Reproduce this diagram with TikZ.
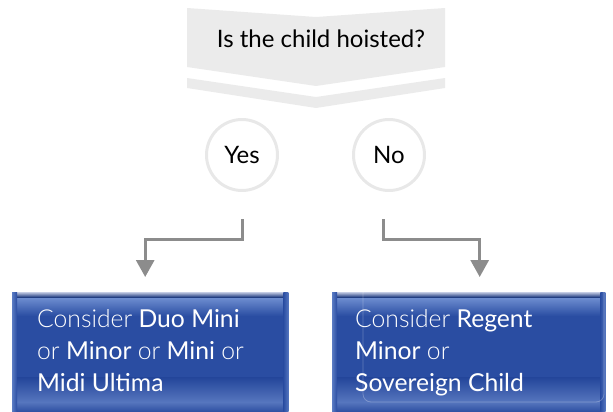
\documentclass[tikz,border=0pt]{standalone}
\usepackage{fontspec}
\setmainfont{Lato}
\newfontfamily\lightf{Lato Light}
\usetikzlibrary{arrows.meta}
\definecolor{bannergray}{HTML}{EBEBEB}
\definecolor{circgray}{HTML}{E8E8E8}
\definecolor{conngray}{HTML}{8C8C8C}
\definecolor{boxmid}{HTML}{2A4DA2}
\definecolor{boxdark}{HTML}{23459A}
\definecolor{boxhi}{HTML}{7090D2}
\definecolor{boxedge}{HTML}{C4CCE4}
\definecolor{boxband}{HTML}{5676BE}
\tikzset{
  answer/.style={circle, draw=circgray, line width=3pt, minimum size=71pt, inner sep=0pt,
    font=\fontsize{24}{28}\selectfont},
  conn/.style={draw=conngray, line width=3pt, -{Triangle[width=18pt,length=17pt]}},
  boxnode/.style={rectangle, minimum width=276pt, minimum height=122pt, inner sep=0pt, anchor=north west},
  boxtext/.style={text=white, align=left, anchor=north west, inner sep=0pt,
    font=\fontsize{24.7}{32}\selectfont},
  question/.style={font=\fontsize{24}{28}\selectfont, anchor=base}
}
\newcommand\glossbox[1]{%
  \fill[boxmid] (#1.north west) rectangle (#1.south east);
  \shade[top color=boxhi, bottom color=boxmid] ([yshift=-5pt]#1.north west) rectangle ([yshift=-24pt]#1.north east);
  \shade[top color=boxedge, bottom color=boxmid!80!black] (#1.north west) rectangle ([yshift=-5pt]#1.north east);
  \shade[top color=boxdark, bottom color=boxband] ([yshift=-85pt]#1.north west) rectangle ([yshift=-110pt]#1.north east);
  \shade[top color=boxband, bottom color=boxdark] ([yshift=-110pt]#1.north west) rectangle (#1.south east);
  \shade[left color=boxhi!70!boxmid, right color=boxmid] (#1.north west) rectangle ([xshift=5pt]#1.south west);
  \shade[left color=boxmid, right color=boxhi!60!boxmid] ([xshift=-5pt]#1.north east) rectangle (#1.south east);
}
\begin{document}
\begin{tikzpicture}[x=1pt,y=-1pt]
\useasboundingbox (0,0) rectangle (613,412);
% banner
\fill[bannergray] (187,8) -- (316,17) -- (445,8) -- (445,67) -- (316,86) -- (187,67) -- cycle;
\fill[bannergray] (187,78) -- (316,97) -- (445,78) -- (445,88) -- (316,108) -- (187,88) -- cycle;
\node[question] (q) at (321,48) {Is the child hoisted?};
% answers
\node[answer] (yes) at (242,155) {Yes};
\node[answer] (no) at (389,155) {No};
% boxes
\node[boxnode] (lbox) at (12,292) {};
\node[boxnode, minimum width=273pt] (rbox) at (332,292) {};
\glossbox{lbox}
\glossbox{rbox}
\draw[white, opacity=0.25, line width=0.8pt, rounded corners=8pt] (363,285) rectangle (604,402);
\node[boxtext] (ltext) at (37,309) {{\lightf Consider} Duo Mini\\{\lightf or} Minor {\lightf or} Mini {\lightf or}\\Midi Ultima};
\node[boxtext] (rtext) at (355,309) {{\lightf Consider} Regent\\Minor {\lightf or}\\Sovereign Child};
% connectors
\draw[conn] ([yshift=-27pt]yes.south) -- ++(0,20) -| ([xshift=-5pt,yshift=15pt]lbox.north);
\draw[conn] ([yshift=-27pt,xshift=-6pt]no.south) -- ++(0,20) -| ([xshift=11pt,yshift=15pt]rbox.north);
\end{tikzpicture}
\end{document}
